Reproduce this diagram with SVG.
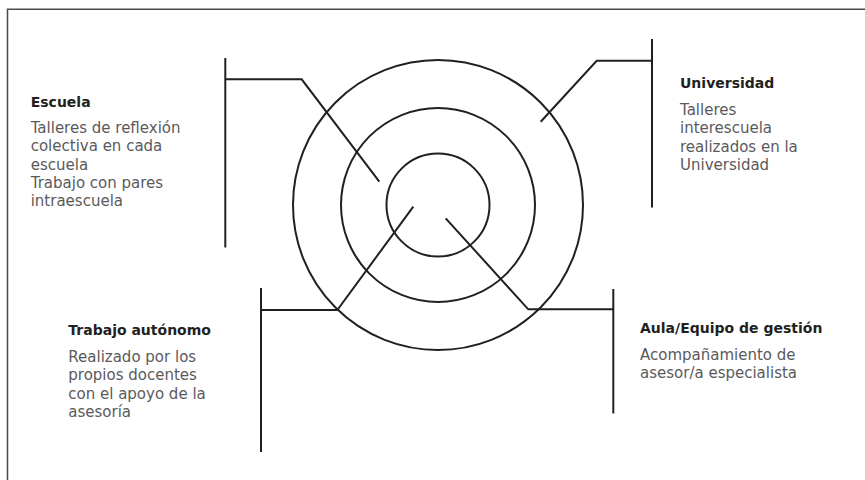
<svg xmlns="http://www.w3.org/2000/svg" width="865" height="480" viewBox="0 0 865 480">
<style>
.frame{stroke:#4a4a4a;stroke-width:1.5;fill:none}
.ln{stroke:#231f20;stroke-width:2;fill:none;stroke-linejoin:miter}
.ring{stroke:#231f20;stroke-width:2;fill:none}
.t{font-family:"DejaVu Sans","Liberation Sans",sans-serif;font-size:14px;font-weight:bold;fill:#231f20}
.b{font-family:"DejaVu Sans","Liberation Sans",sans-serif;font-size:15px;fill:#5a5a5c}
</style>
<rect width="865" height="480" fill="#fff"/>
<path class="frame" d="M7.5,480 V9.3 H865"/>
<g id="target">
<circle class="ring" cx="438" cy="205" r="145"/>
<circle class="ring" cx="438" cy="205" r="97"/>
<circle class="ring" cx="438" cy="205" r="51.5"/>
</g>
<g id="connectors">
<path class="ln" d="M225.3,58 V247.5 M225.3,79.3 H301.7 L379.3,181.7"/>
<path class="ln" d="M652,39 V207.5 M652,60.7 H596.7 L540.7,121.7"/>
<path class="ln" d="M261,288 V452 M261,310 H337.3 L413.3,206.7"/>
<path class="ln" d="M613.3,289 V413.5 M613.3,309.3 H528.3 L445.7,218.3"/>
</g>
<g id="escuela">
<text class="t" x="30.7" y="106.7">Escuela</text>
<text class="b" x="30.7" y="132.7">Talleres de reflexión</text>
<text class="b" x="30.7" y="151.1">colectiva en cada</text>
<text class="b" x="30.7" y="169.5">escuela</text>
<text class="b" x="30.7" y="187.9">Trabajo con pares</text>
<text class="b" x="30.7" y="206.3">intraescuela</text>
</g>
<g id="universidad">
<text class="t" x="680" y="88.3">Universidad</text>
<text class="b" x="680" y="115">Talleres</text>
<text class="b" x="680" y="133.4">interescuela</text>
<text class="b" x="680" y="151.8">realizados en la</text>
<text class="b" x="680" y="170.2">Universidad</text>
</g>
<g id="trabajo">
<text class="t" x="68.3" y="335">Trabajo autónomo</text>
<text class="b" x="68.3" y="361.7">Realizado por los</text>
<text class="b" x="68.3" y="380.1">propios docentes</text>
<text class="b" x="68.3" y="398.5">con el apoyo de la</text>
<text class="b" x="68.3" y="416.9">asesoría</text>
</g>
<g id="aula">
<text class="t" x="640" y="333.3">Aula/Equipo de gestión</text>
<text class="b" x="640" y="360">Acompañamiento de</text>
<text class="b" x="640" y="378.4">asesor/a especialista</text>
</g>
</svg>
